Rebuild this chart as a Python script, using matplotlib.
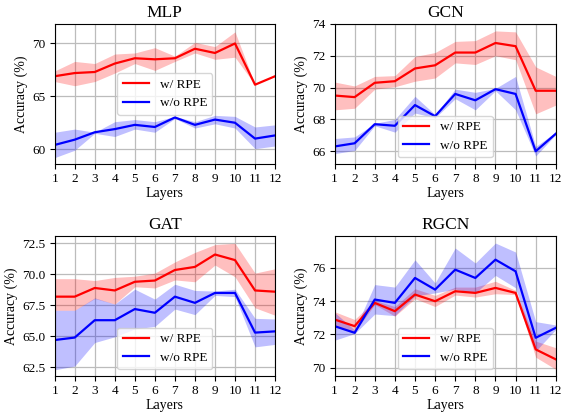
import matplotlib
matplotlib.use("Agg")
import matplotlib.pyplot as plt
import numpy as np

plt.rcParams['font.family'] = ['Liberation Serif', 'DejaVu Serif']
plt.rcParams['mathtext.fontset'] = 'stix'

layers = list(range(1, 13))
titles = ["MLP", "GCN", "GAT", "RGCN"]

# MLP
mlp_w = [66.9, 67.2, 67.3, 68.1, 68.6, 68.5, 68.6, 69.5, 69.1, 70.0, 66.1, 66.9]
mlp_w_hi = [67.4, 68.3, 68.1, 69.0, 69.1, 69.6, 68.8, 70.1, 69.7, 71.1, 66.1, 66.9]
mlp_w_lo = [66.4, 66.0, 66.4, 67.2, 68.1, 67.45, 68.3, 69.1, 68.5, 68.7, 66.1, 66.9]
mlp_wo = [60.4, 60.9, 61.6, 61.9, 62.3, 62.1, 63.0, 62.3, 62.8, 62.5, 61.0, 61.3]
mlp_wo_hi = [61.6, 61.9, 61.6, 62.6, 62.8, 62.6, 63.1, 62.6, 63.2, 63.1, 62.1, 62.3]
mlp_wo_lo = [59.2, 59.9, 61.5, 61.2, 61.9, 61.6, 62.9, 62.0, 62.4, 62.0, 60.05, 60.3]

# GCN
gcn_w = [69.5, 69.4, 70.3, 70.4, 71.2, 71.4, 72.2, 72.2, 72.8, 72.6, 69.8, 69.8]
gcn_w_hi = [70.35, 70.1, 70.7, 70.75, 71.95, 72.2, 72.9, 72.95, 73.56, 73.5, 71.3, 70.7]
gcn_w_lo = [68.6, 68.7, 69.9, 70.05, 70.4, 70.6, 71.55, 71.45, 72.0, 71.75, 68.35, 68.9]
gcn_wo = [66.3, 66.5, 67.7, 67.6, 68.9, 68.2, 69.6, 69.2, 69.9, 69.6, 66.0, 67.1]
gcn_wo_hi = [66.8, 66.9, 67.75, 68.0, 69.45, 68.3, 69.9, 69.7, 69.95, 70.7, 66.3, 67.2]
gcn_wo_lo = [65.85, 66.05, 67.6, 67.2, 68.4, 68.1, 69.3, 68.6, 69.8, 68.6, 65.7, 67.05]

# GAT
gat_w = [68.2, 68.2, 68.9, 68.7, 69.4, 69.5, 70.35, 70.6, 71.6, 71.15, 68.7, 68.6]
gat_w_hi = [69.65, 69.65, 69.5, 69.75, 69.85, 70.1, 71.0, 71.77, 72.4, 72.5, 70.1, 70.45]
gat_w_lo = [67.1, 67.1, 68.05, 67.6, 69.0, 68.9, 69.55, 69.4, 70.75, 69.8, 67.3, 66.7]
gat_wo = [64.7, 64.9, 66.3, 66.3, 67.2, 66.9, 68.2, 67.7, 68.5, 68.5, 65.3, 65.4]
gat_wo_hi = [67.1, 67.1, 68.1, 67.6, 68.8, 68.0, 69.2, 68.7, 68.65, 68.8, 66.45, 66.4]
gat_wo_lo = [62.3, 62.6, 64.5, 64.96, 65.6, 65.8, 67.2, 66.75, 68.3, 68.2, 64.15, 64.35]

# RGCN
rgcn_w = [72.9, 72.5, 73.9, 73.4, 74.4, 74.0, 74.6, 74.5, 74.8, 74.5, 71.1, 70.5]
rgcn_w_hi = [73.37, 72.9, 74.04, 73.68, 74.75, 74.35, 74.85, 74.85, 75.2, 74.65, 71.6, 71.2]
rgcn_w_lo = [72.5, 72.15, 73.8, 73.1, 74.15, 73.68, 74.37, 74.25, 74.45, 74.4, 70.63, 69.9]
rgcn_wo = [72.5, 72.1, 74.1, 73.9, 75.4, 74.7, 75.9, 75.4, 76.5, 75.8, 71.8, 72.4]
rgcn_wo_hi = [73.33, 72.27, 75.0, 74.85, 76.49, 75.1, 77.2, 76.3, 77.5, 76.96, 72.77, 72.57]
rgcn_wo_lo = [71.65, 72.05, 73.23, 73.13, 74.32, 74.5, 74.73, 74.5, 75.55, 74.81, 71.0, 72.3]

# y-axis ranges and ticks per panel
ylims = [(58.6, 71.85), (65.2, 74.0), (61.8, 73.1), (69.5, 77.93)]
yticks = [[60, 65, 70], [66, 68, 70, 72, 74], [62.5, 65.0, 67.5, 70.0, 72.5], [70, 72, 74, 76]]
yfmts = [None, None, '{:.1f}', None]
legend_locs = ['center', 'lower center', 'lower center', 'lower center']

panels = [
    (mlp_w, mlp_w_lo, mlp_w_hi, mlp_wo, mlp_wo_lo, mlp_wo_hi),
    (gcn_w, gcn_w_lo, gcn_w_hi, gcn_wo, gcn_wo_lo, gcn_wo_hi),
    (gat_w, gat_w_lo, gat_w_hi, gat_wo, gat_wo_lo, gat_wo_hi),
    (rgcn_w, rgcn_w_lo, rgcn_w_hi, rgcn_wo, rgcn_wo_lo, rgcn_wo_hi),
]

fig = plt.figure(figsize=(5.66, 4.12), dpi=100)
positions = [
    [0.0966, 0.602, 0.3894, 0.340],
    [0.591, 0.602, 0.391, 0.340],
    [0.0966, 0.0874, 0.3894, 0.340],
    [0.591, 0.0874, 0.391, 0.340],
]

for i in range(4):
    w, wlo, whi, wo, wolo, wohi = panels[i]
    ax = fig.add_axes(positions[i])
    ax.grid(True, color='#bcbcbc', linewidth=0.9)
    ax.set_axisbelow(True)
    ax.plot(layers, w, color='red', linewidth=1.6, label='w/ RPE')
    ax.fill_between(layers, wlo, whi, color='red', alpha=0.25, linewidth=0)
    ax.plot(layers, wo, color='blue', linewidth=1.6, label='w/o RPE')
    ax.fill_between(layers, wolo, wohi, color='blue', alpha=0.25, linewidth=0)
    ax.set_xlim(1, 12)
    ax.set_xticks(layers)
    ax.set_yticks(yticks[i])
    if yfmts[i]:
        ax.set_yticklabels([yfmts[i].format(v) for v in yticks[i]])
    ax.set_ylim(*ylims[i])
    ax.set_title(titles[i], fontsize=12.5, pad=5)
    ax.set_xlabel('Layers', fontsize=10, labelpad=1.5)
    ax.set_ylabel('Accuracy (%)', fontsize=10, labelpad=3)
    ax.tick_params(labelsize=9.5, length=3.5, pad=3)
    ax.legend(loc=legend_locs[i], fontsize=9.5, framealpha=0.8, fancybox=True)

fig.savefig('out.png', dpi=100)
